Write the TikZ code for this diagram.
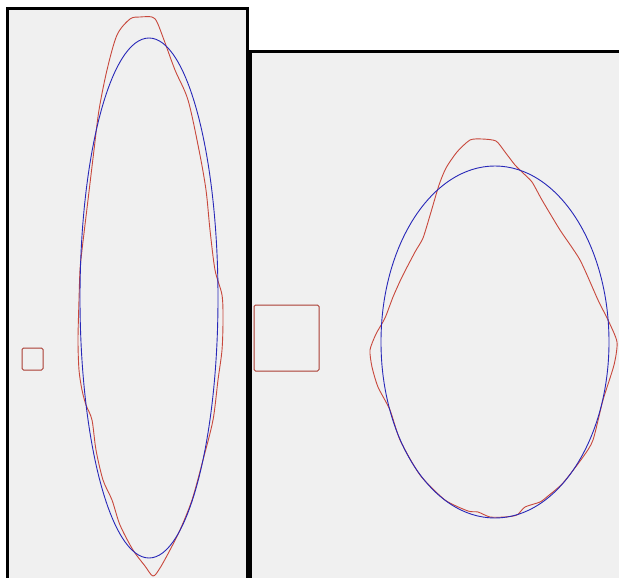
\documentclass[tikz,border=0pt]{standalone}
\definecolor{panelgray}{HTML}{F0F0F0}
\definecolor{fitblue}{HTML}{2828B8}
\definecolor{contred}{HTML}{C8483C}

\begin{document}
\begin{tikzpicture}[
    x=1pt, y=-1pt,
    panel/.style={draw=black, line width=3pt, fill=panelgray},
    fit/.style={draw=fitblue, line width=0.9pt},
    contour/.style={draw=contred, line width=0.9pt, line join=round},
    roi/.style={draw=contred!85!black, line width=1pt, rounded corners=1.5pt},
]

\useasboundingbox (0,0) rectangle (619,578);
\clip (0,0) rectangle (619,578);

% --- Panels ---
\fill[white] (0,0) rectangle (619,578);
\draw[panel] (7.5,8.5) rectangle (247.5,590);
\draw[panel] (250,52) rectangle (630,590);

% --- Left panel ---
\draw[roi] (22,348) rectangle (43,370);
\draw[contour] plot[smooth cycle, tension=0.5] coordinates {
    (130,19) (117,35) (107,70) (99,110) (94,150) (88,200) (82,250)
    (80,270) (79,300) (78,340) (79,370) (82,390) (86,405) (92,420)
    (96,450) (103,480) (112,500) (120,525) (133,550) (145,566)
    (153,576) (160,568) (170,550) (180,530) (192,500) (203,460)
    (213,420) (218,380) (222,350) (223,320) (222,295) (215,270)
    (210,230) (206,190) (199,150) (188,100) (175,70) (164,40)
    (157,22) (152,17) (140,17)};
\draw[fit] (149,298) ellipse [x radius=69, y radius=260];

% --- Right panel ---
\draw[roi] (254,305) rectangle (319,371);
\draw[contour] plot[smooth cycle, tension=0.4] coordinates {
    (470,140) (482,139) (496,141) (505,152) (515,165) (523,173)
    (532,182) (542,200) (560,230) (580,260) (598,300) (608,320)
    (617,342) (614,365) (603,400) (593,440) (583,457) (563,483)
    (548,496) (540,502) (525,507) (517,515) (505,517) (490,517)
    (478,512) (468,511) (445,500) (420,475) (400,440) (390,410)
    (378,387) (372,367) (370,350) (376,334) (385,318) (393,297)
    (402,277) (415,252) (423,238) (431,212) (439,185) (446,168)
    (457,152)};
\draw[fit] (495,342) ellipse [x radius=114, y radius=176];

\end{tikzpicture}
\end{document}
